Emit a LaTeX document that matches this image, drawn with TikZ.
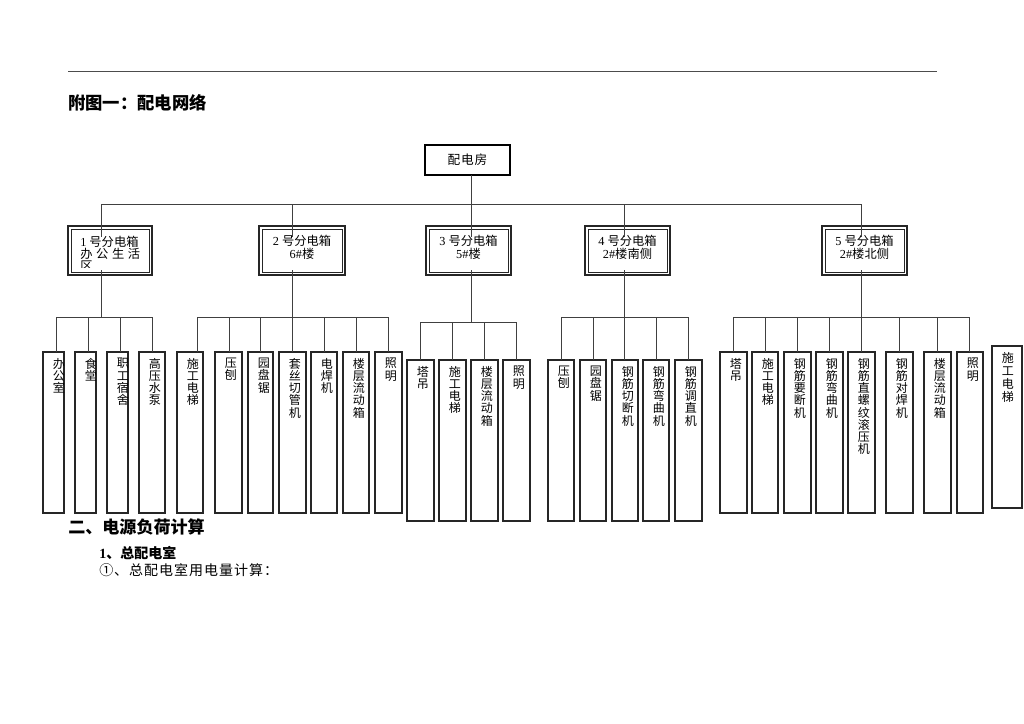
\documentclass[tikz,border=0pt]{standalone}
\usepackage{fontspec}
\setmainfont{Liberation Serif}
\newfontfamily\cjk{Noto Sans CJK SC}
\newfontfamily\cjkls{Noto Sans CJK SC}[LetterSpace=7]
\usetikzlibrary{calc}
\tikzset{
  leaf/.style={draw=black!85, line width=0.9pt, fill=white, inner sep=0pt, outer sep=0pt},
  leaftext/.style={anchor=north west, inner sep=0pt, align=left, font=\cjk\fontsize{9}{9.15}\selectfont},
  conn/.style={draw=black!75, line width=0.75pt},
  subbox/.style={draw=black!85, line width=1.1pt, fill=white, inner sep=0pt, outer sep=0pt},
  rootbox/.style={draw=black, line width=2.2pt, fill=white, inner sep=0pt, outer sep=0pt, font=\cjkls\fontsize{9.5}{11}\selectfont},
  subtext/.style={inner sep=0pt, align=center, font=\fontsize{9.2}{9.75}\selectfont},
  plaintext/.style={anchor=west, inner sep=0pt},
}
% [text opts]{name}{x1}{x2}{y1}{y2}{drop x}{text}
\newcommand\leafbox[8][]{%
  \pgfmathsetmacro\lfcx{(#3+#4)/2}%
  \pgfmathsetmacro\lfcy{(#5+#6)/2}%
  \pgfmathsetmacro\lfw{(#4-#3)*0.75}%
  \pgfmathsetmacro\lfh{(#6-#5)*0.75}%
  \node[leaf,minimum width=\lfw pt,minimum height=\lfh pt] (#2) at (\lfcx,\lfcy) {};%
  \node[leaftext,#1] (#2-t) at ($(#2.north west)+(9.7,6)$) {#8};%
  \coordinate (#2-d) at (#7,#5);%
}
% {name}{x1}{x2}{y1}{y2}
\newcommand\subboxnode[5]{%
  \pgfmathsetmacro\lfcx{(#2+#3)/2}%
  \pgfmathsetmacro\lfcy{(#4+#5)/2}%
  \pgfmathsetmacro\lfw{(#3-#2)*0.75}%
  \pgfmathsetmacro\lfh{(#5-#4)*0.75}%
  \node[subbox,minimum width=\lfw pt,minimum height=\lfh pt] (#1) at (\lfcx,\lfcy) {};%
  \draw[line width=0.6pt, black!85] ($(#1.north west)+(3,3)$) rectangle ($(#1.south east)+(-3,-3)$);%
}
\begin{document}
\begin{tikzpicture}[x=0.75pt,y=-0.75pt]
\fill[white] (0,0) rectangle (1024,724);
\useasboundingbox (0,0) rectangle (1024,724);

% header rule and title
\draw[black!70, line width=0.75pt] (68,72) -- (937,72);
\node[plaintext, font=\cjk\bfseries\fontsize{13}{15}\selectfont] (title) at (68,103) {附图一：配电网络};

% root
\node[rootbox, minimum width=63.75pt, minimum height=22.5pt] (root) at (467.5,160) {配电房};

% sub boxes
\subboxnode{s1}{68}{152}{226}{275}
\subboxnode{s2}{259}{345}{226}{275}
\subboxnode{s3}{426}{511}{226}{275}
\subboxnode{s4}{585}{670}{226}{275}
\subboxnode{s5}{822}{907}{226}{275}

\begin{scope}
  \clip ($(s1.north west)+(3,3)$) rectangle (149,267);
  \node[anchor=north west, inner sep=0pt, align=left, font=\fontsize{9.2}{9.3}\selectfont] (s1-t) at (80,235.5)
    {1 {\cjk 号分电箱}\\{\cjk\makebox[45pt][s]{办\hfill 公\hfill 生\hfill 活}}\\{\cjk 区}};
\end{scope}
\node[subtext] (s2-t) at (302,247.5) {2 {\cjk 号分电箱}\\6\#{\cjk 楼}};
\node[subtext] (s3-t) at (468.5,247.5) {3 {\cjk 号分电箱}\\5\#{\cjk 楼}};
\node[subtext] (s4-t) at (627.5,247.5) {4 {\cjk 号分电箱}\\2\#{\cjk 楼南侧}};
\node[subtext] (s5-t) at (864.5,247.5) {5 {\cjk 号分电箱}\\2\#{\cjk 楼北侧}};

% group 1
\leafbox{l11}{43}{64}{352}{513}{56}{办\\公\\室}
\leafbox{l12}{75}{96}{352}{513}{88}{食\\堂}
\leafbox{l13}{107}{128}{352}{513}{120}{职\\工\\宿\\舍}
\leafbox{l14}{139}{165}{352}{513}{152}{高\\压\\水\\泵}
% group 2
\leafbox{l21}{177}{203}{352}{513}{197}{施\\工\\电\\梯}
\leafbox{l22}{215}{242}{352}{513}{229}{压\\刨}
\leafbox{l23}{248}{273}{352}{513}{260}{园\\盘\\锯}
\leafbox{l24}{279}{306}{352}{513}{292}{套\\丝\\切\\管\\机}
\leafbox{l25}{311}{337}{352}{513}{324}{电\\焊\\机}
\leafbox{l26}{343}{369}{352}{513}{356}{楼\\层\\流\\动\\箱}
\leafbox{l27}{375}{402}{352}{513}{388}{照\\明}
% group 3
\leafbox{l31}{407}{434}{360}{521}{420}{塔\\吊}
\leafbox{l32}{439}{466}{360}{521}{452}{施\\工\\电\\梯}
\leafbox{l33}{471}{498}{360}{521}{484}{楼\\层\\流\\动\\箱}
\leafbox{l34}{503}{530}{360}{521}{516}{照\\明}
% group 4
\leafbox{l41}{548}{574}{360}{521}{561}{压\\刨}
\leafbox{l42}{580}{606}{360}{521}{593}{园\\盘\\锯}
\leafbox{l43}{612}{638}{360}{521}{624}{钢\\筋\\切\\断\\机}
\leafbox{l44}{643}{669}{360}{521}{656}{钢\\筋\\弯\\曲\\机}
\leafbox{l45}{675}{702}{360}{521}{688}{钢\\筋\\调\\直\\机}
% group 5
\leafbox{l51}{720}{747}{352}{513}{733}{塔\\吊}
\leafbox{l52}{752}{778}{352}{513}{765}{施\\工\\电\\梯}
\leafbox{l53}{784}{811}{352}{513}{797}{钢\\筋\\要\\断\\机}
\leafbox{l54}{816}{843}{352}{513}{829}{钢\\筋\\弯\\曲\\机}
\leafbox{l55}{848}{875}{352}{513}{861}{钢\\筋\\直\\螺\\纹\\滚\\压\\机}
\leafbox{l56}{886}{913}{352}{513}{899}{钢\\筋\\对\\焊\\机}
\leafbox{l57}{924}{951}{352}{513}{937}{楼\\层\\流\\动\\箱}
\leafbox{l58}{957}{983}{352}{513}{969}{照\\明}
% stand-alone box
\leafbox[font=\cjk\fontsize{9}{9.8}\selectfont]{x6}{992}{1022}{346}{508}{1007}{施\\工\\电\\梯}

% connectors
\coordinate (bt0) at (471,204);
\coordinate (bt1) at (101,204);
\coordinate (bt2) at (292,204);
\coordinate (bt3) at (471,204);
\coordinate (bt4) at (624,204);
\coordinate (bt5) at (861,204);
\coordinate (g1) at (101,317);
\coordinate (g2) at (292,317);
\coordinate (g3) at (471,322);
\coordinate (g4) at (624,317);
\coordinate (g5) at (861,317);

\draw[conn] (bt0 |- root.south) -- (bt0);
\draw[conn] (bt1) -- (bt5);
\foreach \i in {1,...,5} {
  \draw[conn] (bt\i) -- ($(bt\i |- s\i.north)+(0,11)$);
  \draw[conn] ($(bt\i |- s\i.south)+(0,-5)$) -- (g\i);
}
\foreach \l in {l11,l12,l13,l14} \draw[conn] (\l-d) |- (g1);
\foreach \l in {l21,l22,l23,l24,l25,l26,l27} \draw[conn] (\l-d) |- (g2);
\foreach \l in {l31,l32,l33,l34} \draw[conn] (\l-d) |- (g3);
\foreach \l in {l41,l42,l43,l44,l45} \draw[conn] (\l-d) |- (g4);
\foreach \l in {l51,l52,l53,l54,l55,l56,l57,l58} \draw[conn] (\l-d) |- (g5);

% text below
\node[plaintext, font=\cjk\bfseries\fontsize{12.8}{14}\selectfont] (sec2) at (68,527) {二、电源负荷计算};
\node[plaintext, font=\bfseries\fontsize{10.5}{12}\selectfont] (sec21) at (99,553) {1{\cjk 、总配电室}};
\node[plaintext, font=\cjkls\fontsize{10.5}{12}\selectfont] (sec22) at (99,570) {①、总配电室用电量计算：};
\end{tikzpicture}
\end{document}
